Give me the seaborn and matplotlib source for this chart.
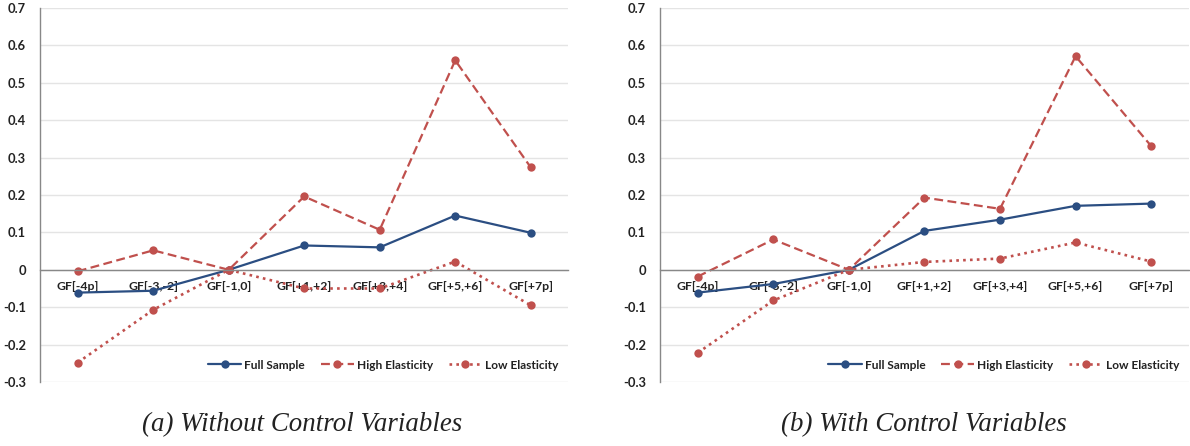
import matplotlib
matplotlib.use("Agg")
import matplotlib.pyplot as plt
import seaborn as sns
import numpy as np
from matplotlib.lines import Line2D

categories = ["GF[-4p]", "GF[-3,-2]", "GF[-1,0]", "GF[+1,+2]", "GF[+3,+4]", "GF[+5,+6]", "GF[+7p]"]

a_full = [-0.061, -0.056, 0.0, 0.065, 0.060, 0.145, 0.099]
a_high = [-0.004, 0.052, 0.0, 0.196, 0.107, 0.560, 0.274]
a_low = [-0.248, -0.107, 0.0, -0.050, -0.050, 0.022, -0.095]

b_full = [-0.061, -0.038, 0.0, 0.104, 0.134, 0.171, 0.177]
b_high = [-0.018, 0.081, 0.0, 0.193, 0.163, 0.571, 0.331]
b_low = [-0.222, -0.082, 0.0, 0.021, 0.030, 0.073, 0.022]

captions = ["(a) Without Control Variables", "(b) With Control Variables"]
series_names = ["Full Sample", "High Elasticity", "Low Elasticity"]
yticks = [-0.3, -0.2, -0.1, 0, 0.1, 0.2, 0.3, 0.4, 0.5, 0.6, 0.7]
ytick_labels = ["-0.3", "-0.2", "-0.1", "0", "0.1", "0.2", "0.3", "0.4", "0.5", "0.6", "0.7"]

sns.set_theme(style="white")
UI = "Lato"
plt.rcParams["font.family"] = [UI, "DejaVu Sans"]

BLUE = "#2B4E82"
RED = "#C0504D"
styles = [dict(color=BLUE, linestyle="-", lw=1.6),
          dict(color=RED, linestyle=(0, (4, 2)), lw=1.6),
          dict(color=RED, linestyle=(0, (1, 1.6)), lw=1.9)]

fig = plt.figure(figsize=(11.9, 4.46), dpi=100)
ax_a = fig.add_axes([0.0336, 0.1435, 0.4441, 0.8386])
ax_b = fig.add_axes([0.5546, 0.1435, 0.4445, 0.8386])

panels = [(ax_a, [a_full, a_high, a_low]), (ax_b, [b_full, b_high, b_low])]
fs_x = 8.8
fs_y = 9.3

for i, (ax, data) in enumerate(panels):
    for vals, st, name in zip(data, styles, series_names):
        sns.lineplot(x=categories, y=vals, ax=ax, sort=False, color=st["color"],
                     linewidth=st["lw"], marker="o", markersize=6,
                     markeredgewidth=0, label=name, legend=False)
        ax.lines[-1].set_linestyle(st["linestyle"])
    ax.set_xlim(-0.5, 6.5)
    ax.set_ylim(-0.3, 0.7)
    ax.set_yticks(yticks)
    ax.set_yticklabels(ytick_labels, fontsize=fs_y, fontweight="bold", color="#222222")
    ax.yaxis.grid(True, color="#E4E4E4", linewidth=1)
    ax.set_axisbelow(True)
    for s in ["top", "right"]:
        ax.spines[s].set_visible(False)
    ax.spines["left"].set_color("#888888")
    ax.spines["left"].set_linewidth(1)
    ax.spines["bottom"].set_position(("data", 0))
    ax.spines["bottom"].set_color("#888888")
    ax.spines["bottom"].set_linewidth(1)
    ax.set_xticks(range(len(categories)))
    ax.set_xticklabels(categories, fontsize=fs_x, fontweight="bold", color="#222222")
    ax.tick_params(axis="x", which="major", length=0, pad=8)
    ax.set_xticks(np.arange(-0.5, 7.0, 1.0), minor=True)
    ax.tick_params(axis="x", which="minor", length=3.5, color="#888888", width=1, direction="out")
    ax.tick_params(axis="y", length=0, pad=10)
    ax.set_xlabel("")
    ax.set_ylabel("")
    handles = [Line2D([0], [0], color=st["color"], linestyle=st["linestyle"], lw=st["lw"],
                      marker="o", markersize=6, markeredgewidth=0) for st in styles]
    leg = ax.legend(handles, series_names, loc="center right", bbox_to_anchor=(0.981, 0.045),
                    ncol=3, frameon=False, handlelength=2.8, columnspacing=1.3,
                    handletextpad=0.25, prop=dict(family=UI, weight="bold", size=8.6),
                    borderaxespad=0, borderpad=0)
    for t in leg.get_texts():
        t.set_color("#222222")

fig.text(0.2538, 0.047, captions[0], ha="center", va="center", fontsize=19.4,
         style="italic", family="Liberation Serif", color="#222222")
fig.text(0.7765, 0.047, captions[1], ha="center", va="center", fontsize=19.4,
         style="italic", family="Liberation Serif", color="#222222")

fig.savefig("out.png", dpi=100)
